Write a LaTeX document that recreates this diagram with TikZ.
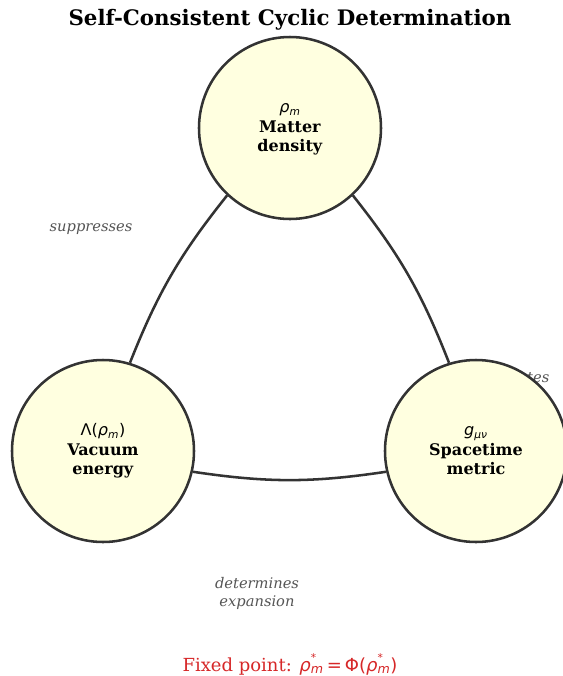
\documentclass[tikz,border=0pt]{standalone}
\usepackage{fontspec}
\setmainfont{DejaVu Serif}
\newfontfamily\msans{DejaVu Sans}
\usetikzlibrary{backgrounds}
\definecolor{nodefill}{HTML}{FFFFE0}
\definecolor{edgecol}{HTML}{333333}
\definecolor{labcol}{HTML}{555555}
\definecolor{fixcol}{HTML}{D62728}
\newcommand\mrho{{\msans\itshape ρ}}
\newcommand\msub[1]{\textsubscript{\msans\itshape #1}}
\newcommand\mstar[1]{\mrho\makebox[0pt][l]{\raisebox{1.05ex}{\fontsize{8}{8}\selectfont\msans *}}\msub{#1}}
\newcommand\nodetext[3]{\raisebox{-2.5pt}{\begin{tabular}{@{}c@{}}#1\\[0.6pt]\textbf{#2}\\[-0.6pt]\textbf{#3}\end{tabular}}}
\tikzset{
  state/.style={circle, draw=edgecol, fill=nodefill, line width=1.9pt, minimum size=182*0.75pt, inner sep=0pt, font=\fontsize{12}{14.4}\selectfont},
  conn/.style={draw=edgecol, line width=1.9pt},
  elabel/.style={text=labcol, font=\fontsize{11}{13}\selectfont\itshape, align=center}
}
\begin{document}
\begin{tikzpicture}[x=0.75pt,y=-0.75pt]
\useasboundingbox (0,0) rectangle (563,676);
\node[font=\fontsize{16}{18}\selectfont\bfseries] (title) at (290,20) {Self-Consistent Cyclic Determination};
\node[state] (rho) at (290,128) {\nodetext{{\msans\mrho\msub{m}}}{Matter}{density}};
\node[state] (lam) at (103,451) {\nodetext{{\msans Λ(\mrho\msub{m})}}{Vacuum}{energy}};
\node[state] (g) at (476,451) {\nodetext{{\msans\itshape g\msub{μν}}}{Spacetime}{metric}};
\begin{pgfonlayer}{background}
\draw[conn] (rho.-133) to[bend right=8.5] (lam.73);
\draw[conn] (lam.-13) to[bend right=8.5] (g.193);
\draw[conn] (g.107) to[bend right=8.5] (rho.-47);
\node[elabel, anchor=east] (lgen) at (554,379) {generates};
\end{pgfonlayer}
\node[elabel] (lsup) at (91,229.5) {suppresses};
\node[elabel] (ldet) at (257,593.5) {determines\\expansion};
\node[text=fixcol, font=\fontsize{13.5}{15}\selectfont] (fix) at (290,664) {Fixed point: \mstar{m}\,{\msans =}\,{\msans Φ(}\mstar{m}{\msans )}};
\end{tikzpicture}
\end{document}
